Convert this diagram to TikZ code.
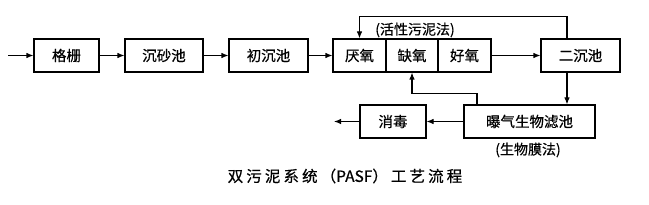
\documentclass[tikz,border=0pt]{standalone}
\usepackage{fontspec}
\newfontfamily\cjk[FakeBold=0.6]{Noto Sans CJK SC}
\usetikzlibrary{arrows.meta}
\newcommand{\lsp}[1]{{\addfontfeature{LetterSpace=20}#1}}
\begin{document}
\begin{tikzpicture}[x=1pt,y=-1pt,
  box/.style={draw, line width=1.1pt, minimum height=33pt, inner sep=0pt, font=\cjk\fontsize{14.5}{14.5}\selectfont},
  arr/.style={-{Latex[length=7pt,width=5.5pt]}, line width=1.1pt},
  lbl/.style={font=\cjk\fontsize{14}{14}\selectfont, inner sep=0pt}]
\useasboundingbox (0,0) rectangle (649,205);
\node[box, minimum width=65pt] (gs) at (66.5,55.5) {格栅};
\node[box, minimum width=78pt] (csc) at (164,55.5) {沉砂池};
\node[box, minimum width=79pt] (ccc) at (268.5,55.5) {初沉池};
\node[box, minimum width=53pt] (yy) at (359.5,55.5) {厌氧};
\node[box, minimum width=52pt] (qy) at (412,55.5) {缺氧};
\node[box, minimum width=53pt] (hy) at (464.5,55.5) {好氧};
\node[box, minimum width=79pt] (ecc) at (580.5,55.5) {二沉池};
\node[box, minimum width=131pt] (bq) at (529.5,121.5) {曝气生物滤池};
\node[box, minimum width=66pt] (xd) at (393,121.5) {消毒};
\coordinate (in) at (8,55.5);
\coordinate (out) at (334,121.5);
\node[lbl] (l1) at (415,30) {(活性污泥法)};
\node[lbl] (l2) at (528,150) {(生物膜法)};
\node[font=\cjk\fontsize{15.5}{15.5}\selectfont, inner sep=0pt] (title) at (345,176) {\lsp{双污泥系统（}PASF\lsp{）工艺流程}};
\draw[arr] (in) -- (gs);
\draw[arr] (gs) -- (csc);
\draw[arr] (csc) -- (ccc);
\draw[arr] (ccc) -- (yy);
\draw[arr] (hy) -- (ecc);
\draw[arr] ([xshift=-13.5pt]ecc.north) |- ([yshift=22pt]yy.north) -- (yy.north);
\draw[arr] ([xshift=-13.5pt]ecc.south) -- ([xshift=-13.5pt]ecc.south |- bq.north);
\draw[arr] ([xshift=-52.5pt]bq.north) -- ++(0,-11) -| (qy.south);
\draw[arr] (bq) -- (xd);
\draw[arr] (xd) -- (out);
\end{tikzpicture}
\end{document}
